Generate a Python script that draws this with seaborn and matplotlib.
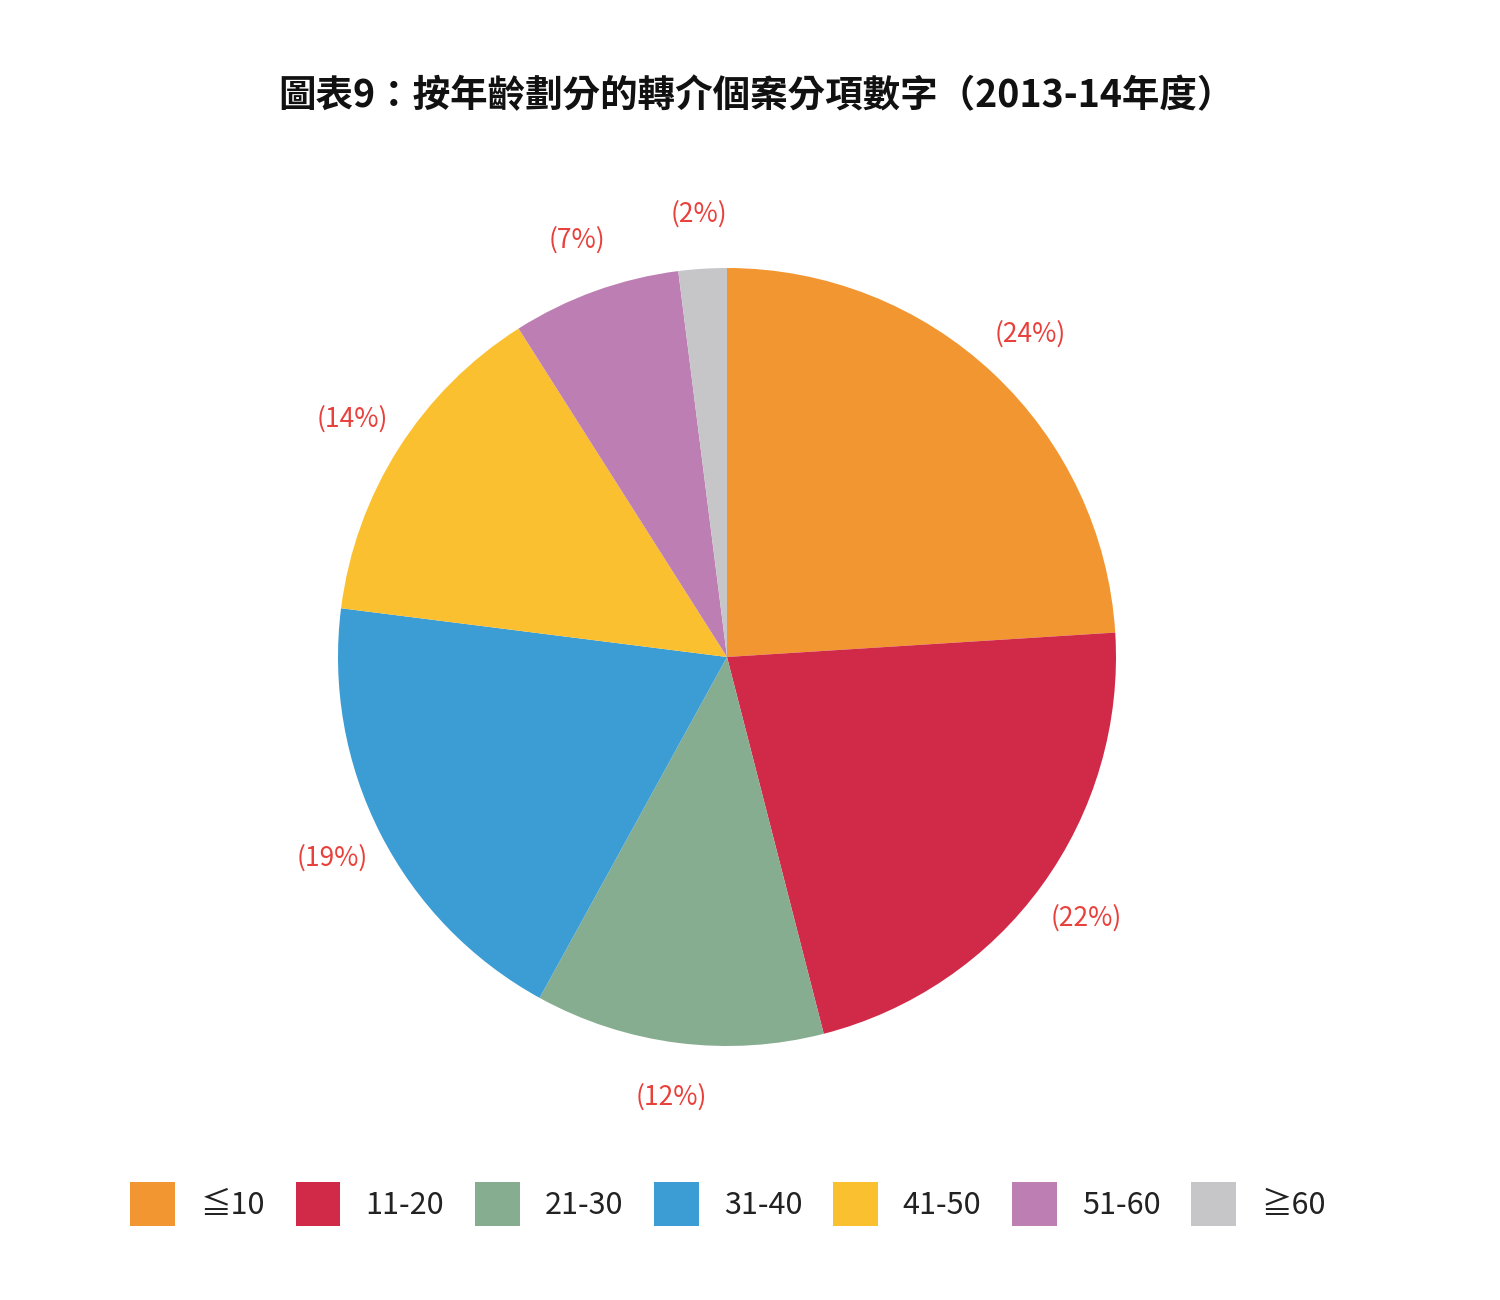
import matplotlib
matplotlib.use("Agg")
import matplotlib.pyplot as plt
from matplotlib.patches import Patch
import seaborn as sns

categories = ["≦10", "11-20", "21-30", "31-40", "41-50", "51-60", "≧60"]
values = [24, 22, 12, 19, 14, 7, 2]
colors = ["#f29632", "#d12a48", "#87ad91", "#3b9dd4", "#fbc02f", "#bd7fb3", "#c6c6c8"]
title = "圖表9：按年齡劃分的轉介個案分項數字（2013-14年度）"

sns.set_theme(style="white")
plt.rcParams['font.family'] = ['Noto Sans CJK TC', 'DejaVu Sans']

W, H = 1500, 1300
fig = plt.figure(figsize=(W / 100, H / 100), dpi=100)
fig.patch.set_facecolor("white")

cx, cy, r = 727, 657, 389
half = 520
ax = fig.add_axes([(cx - half) / W, (H - cy - half) / H, 2 * half / W, 2 * half / H])
L = half / r

wedges, texts, autotexts = ax.pie(
    values, colors=colors, startangle=90, counterclock=False, radius=1,
    autopct=lambda p: f"({p:.0f}%)", pctdistance=1.14,
    wedgeprops=dict(linewidth=0), frame=False,
)
for t in autotexts:
    t.set_color("#e8413c")
    t.set_fontsize(19)
ax.set_xlim(-L, L)
ax.set_ylim(-L, L)
ax.set_aspect("auto")
ax.axis("off")

fig.text(756 / W, 1 - 96 / H, title, ha="center", va="center",
         fontsize=27, fontweight="bold", color="#111111")

handles = [Patch(facecolor=c, edgecolor="none", label=l) for c, l in zip(colors, categories)]
fig.legend(handles=handles, loc="center", bbox_to_anchor=(728 / W, 1 - 1204 / H),
           ncol=7, frameon=False, fontsize=22, handlelength=1.47, handleheight=1.84,
           handletextpad=0.82, columnspacing=1.0, labelcolor="#222222")

fig.savefig("out.png", dpi=100, facecolor="white")
